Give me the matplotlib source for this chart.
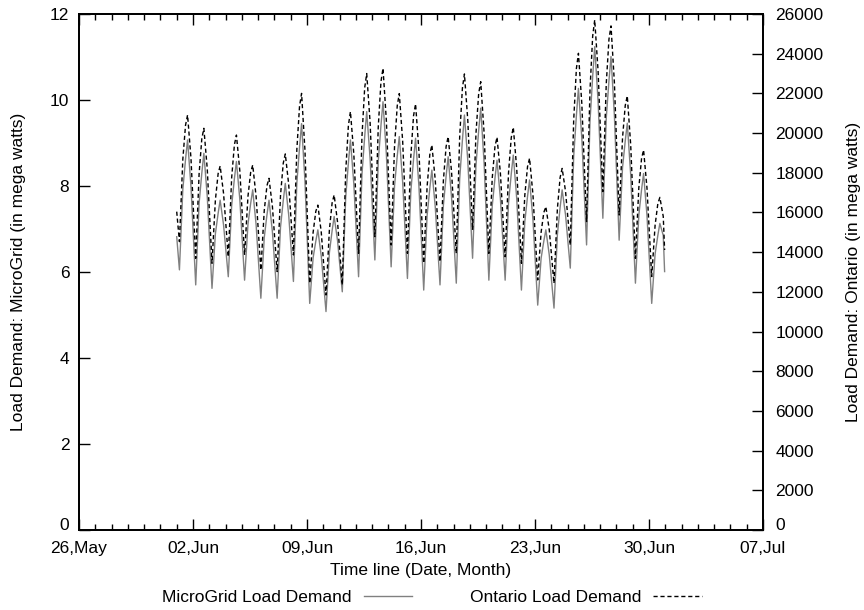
import datetime as dt

import matplotlib
matplotlib.use('Agg')
import matplotlib.pyplot as plt
import matplotlib.dates as mdates
from matplotlib.lines import Line2D

plt.rcParams['font.family'] = ['Liberation Sans', 'DejaVu Sans']
plt.rcParams['font.size'] = 12.5

# readings: one value at 0h on Jun 1, then five per day
# (04h, 09h, 13h, 16h, 21h) for Jun 1..30, then the last hour (Jun 30 23h)
sample_hours = [4, 9, 13, 16, 21]

ontario = [16040,
           14530, 18680, 20400, 20910, 18740,
           13690, 17950, 19720, 20240, 18200,
           13440, 16630, 17950, 18340, 16970,
           13770, 17760, 19410, 19900, 18090,
           13860, 16810, 18030, 18390, 16800,
           13100, 16100, 17350, 17720, 16310,
           13020, 16880, 18480, 18950, 17420,
           13860, 19150, 21350, 22000, 19130,
           12430, 14990, 16060, 16370, 15010,
           11840, 15120, 16480, 16880, 15520,
           12350, 18030, 20380, 21080, 18940,
           13940, 19830, 22280, 23000, 20530,
           14780, 20300, 22590, 23270, 20600,
           14360, 19320, 21380, 21990, 19580,
           13940, 18840, 20870, 21470, 19060,
           13440, 17310, 18920, 19400, 17640,
           13520, 17620, 19320, 19820, 18060,
           13940, 19820, 22260, 22980, 20620,
           15120, 19980, 21990, 22590, 20000,
           13940, 17740, 19320, 19790, 17980,
           13770, 18010, 19770, 20290, 18240,
           13440, 16880, 18310, 18730, 16890,
           12600, 15000, 16000, 16290, 15130,
           12430, 16190, 17760, 18220, 17060,
           14360, 20640, 23250, 24020, 21480,
           15540, 22140, 24890, 25700, 23110,
           17050, 22480, 24730, 25400, 22540,
           15870, 19770, 21390, 21870, 19420,
           13690, 17240, 18710, 19150, 17240,
           12770, 15360, 16440, 16760, 15800,
           14110]

microgrid = [6.82,
             6.05, 7.92, 8.62, 9.07, 7.99,
             5.70, 7.60, 8.30, 8.76, 7.76,
             5.62, 6.89, 7.36, 7.67, 7.10,
             5.89, 7.55, 8.17, 8.57, 7.69,
             5.81, 7.11, 7.60, 7.91, 7.10,
             5.39, 6.80, 7.33, 7.67, 6.94,
             5.39, 7.05, 7.66, 8.06, 7.33,
             5.78, 8.06, 8.90, 9.45, 8.11,
             5.27, 6.33, 6.72, 6.98, 6.37,
             5.08, 6.45, 6.96, 7.29, 6.73,
             5.54, 7.73, 8.54, 9.07, 8.05,
             5.89, 8.27, 9.15, 9.73, 8.63,
             6.28, 8.56, 9.41, 9.96, 8.73,
             6.12, 8.00, 8.70, 9.15, 8.09,
             5.85, 7.87, 8.62, 9.11, 7.98,
             5.58, 7.31, 7.95, 8.37, 7.52,
             5.70, 7.55, 8.23, 8.68, 7.74,
             5.74, 8.16, 9.06, 9.65, 8.58,
             6.32, 8.48, 9.29, 9.81, 8.53,
             5.81, 7.54, 8.18, 8.60, 7.71,
             5.81, 7.61, 8.28, 8.72, 7.72,
             5.58, 7.17, 7.76, 8.14, 7.21,
             5.23, 6.32, 6.72, 6.98, 6.40,
             5.16, 6.87, 7.50, 7.91, 7.33,
             6.09, 8.68, 9.64, 10.27, 9.11,
             6.63, 9.49, 10.55, 11.24, 9.96,
             7.25, 9.58, 10.45, 11.01, 9.64,
             6.74, 8.43, 9.05, 9.46, 8.27,
             5.74, 7.32, 7.91, 8.29, 7.32,
             5.27, 6.42, 6.85, 7.13, 6.85,
             6.01]

start = dt.datetime(2014, 6, 1)
times = [start]
for d in range(30):
    for h in sample_hours:
        times.append(start + dt.timedelta(days=d, hours=h))
times.append(start + dt.timedelta(days=29, hours=23))

fig = plt.figure(figsize=(8.64, 6.10), dpi=100)
ax = fig.add_axes([79 / 864, 1 - 530 / 610, (763 - 79) / 864, (530 - 14) / 610])
ax2 = ax.twinx()

ax.plot(times, microgrid, color='#808080', lw=1.0)
ax2.plot(times, ontario, color='black', lw=1.0, dashes=(3, 2))

ax.set_xlim(dt.datetime(2014, 5, 26), dt.datetime(2014, 7, 7))
ax.set_ylim(0, 12)
ax2.set_ylim(0, 26000)
ax.set_yticks(range(0, 13, 2))
ax2.set_yticks(range(0, 26001, 2000))

ax.xaxis.set_major_locator(mdates.WeekdayLocator(byweekday=mdates.MO))
ax.xaxis.set_minor_locator(mdates.DayLocator())
ax.xaxis.set_major_formatter(mdates.DateFormatter('%d,%b'))

ax.tick_params(axis='x', which='major', direction='in', length=8, top=True, width=1, pad=8)
ax.tick_params(axis='x', which='minor', direction='in', length=4, top=True, width=1)
ax.tick_params(axis='y', direction='in', length=8, width=1, pad=7)
ax2.tick_params(axis='y', direction='in', length=8, width=1, pad=9)

# sit the two "0" labels on the baseline so they clear the date labels
for lab in ax.get_yticklabels()[:1] + ax2.get_yticklabels()[:1]:
    lab.set_verticalalignment('baseline')

for sp in ax.spines.values():
    sp.set_linewidth(1.3)
for sp in ax2.spines.values():
    sp.set_linewidth(1.3)

ax.set_xlabel('Time line (Date, Month)', labelpad=5)
ax.set_ylabel('Load Demand: MicroGrid (in mega watts)', labelpad=17)
ax2.set_ylabel('Load Demand: Ontario (in mega watts)', labelpad=16)

handles = [Line2D([], [], color='#808080', lw=1.0),
           Line2D([], [], color='black', lw=1.0, dashes=(3, 2))]
fig.legend(handles, ['MicroGrid Load Demand', 'Ontario Load Demand'],
           loc='center', bbox_to_anchor=(0.5, 13 / 610), ncol=2, frameon=False,
           markerfirst=False, handlelength=2.8, columnspacing=3.3, handletextpad=0.7,
           borderpad=0.2)

fig.savefig('out.png', dpi=100)
